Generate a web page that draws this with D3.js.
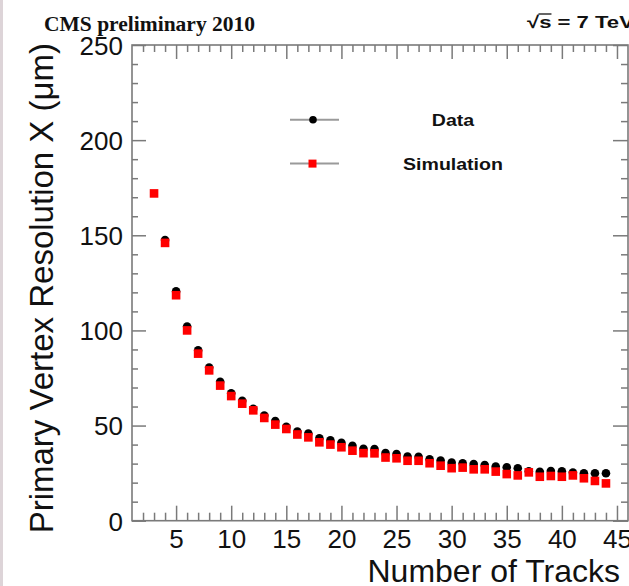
<!DOCTYPE html>
<html>
	<head>
		<meta charset = "utf-8">
		<script src = "https://d3js.org/d3.v7.min.js"></script>
		<style>
			body { margin: 0; background: #fff; }
		</style>
	</head>
	<body>
		<script>
			// Simulation points (number of tracks, resolution in um)
			var simTracks = [3, 4, 5, 6, 7, 8, 9, 10, 11, 12, 13, 14, 15, 16, 17, 18, 19, 20, 21, 22, 23,
			                 24, 25, 26, 27, 28, 29, 30, 31, 32, 33, 34, 35, 36, 37, 38, 39, 40, 41, 42, 43, 44];
			var simRes = [172, 146, 118.5, 100, 87.8, 79, 71, 65.5, 61.5, 58, 54, 50.5, 48.2, 45.3, 43.8, 41.2,
			              40, 38.6, 36.8, 35.5, 35.4, 33.2, 32.8, 31.5, 31.5, 30.2, 28.9, 27.6, 27.9, 27, 27,
			              25.8, 24.5, 23.8, 25.4, 23.1, 23.5, 23.1, 23.8, 22.3, 20.9, 19.6];

			// Data points
			var dataTracks = [4, 5, 6, 7, 8, 9, 10, 11, 12, 13, 14, 15, 16, 17, 18, 19, 20, 21, 22, 23,
			                  24, 25, 26, 27, 28, 29, 30, 31, 32, 33, 34, 35, 36, 37, 38, 39, 40, 41, 42, 43, 44];
			var dataRes = [147.5, 120.5, 102, 89.5, 80.5, 73, 67, 63, 58.8, 55.3, 52.4, 49.3, 46.8, 45.8, 43.3,
			               42.2, 41, 39.4, 37.8, 37.6, 35.5, 35, 33.7, 33.6, 32.3, 31.6, 30.5, 30.2, 29.8, 29.3,
			               28.5, 28.1, 27.6, 26, 25.7, 26.1, 26, 25.3, 24.9, 24.9, 24.9];

			var xMajor = [5, 10, 15, 20, 25, 30, 35, 40, 45];
			var xMinor = [2, 3, 4, 6, 7, 8, 9, 11, 12, 13, 14, 16, 17, 18, 19, 21, 22, 23, 24, 26, 27, 28, 29,
			              31, 32, 33, 34, 36, 37, 38, 39, 41, 42, 43, 44];
			var yMajor = [0, 50, 100, 150, 200, 250];
			var yMinor = [10, 20, 30, 40, 60, 70, 80, 90, 110, 120, 130, 140, 160, 170, 180, 190, 210, 220, 230, 240];

			var legendNames = ["Data", "Simulation"];

			var width = 629, height = 586;
			var plotL = 132, plotR = 628, plotT = 45, plotB = 520.7;
			var axisColor = "#7a7a7a";

			var x = d3.scaleLinear().domain([1, 46]).range([plotL, plotR]);
			var y = d3.scaleLinear().domain([0, 250]).range([plotB, plotT]);

			var svg = d3.select("body").append("svg")
				.attr("width", width)
				.attr("height", height)
				.style("font-family", "'Liberation Sans', Arial, sans-serif");

			// thin grey border on the left edge of the picture
			svg.append("rect").attr("x", 0).attr("y", 0).attr("width", 3).attr("height", height).attr("fill", "#ddd4d8");

			// helper to draw one axis with ticks pointing into the frame
			function drawAxis(axis, tr, values, size, labels){
				var g = svg.append("g").attr("transform", tr)
					.call(axis.tickValues(values).tickSize(-size).tickSizeOuter(0)
						.tickPadding(labels ? 9 : 0)
						.tickFormat(labels ? d3.format("d") : ""));
				g.select(".domain").remove();
				g.selectAll(".tick line").attr("stroke", axisColor).attr("stroke-width", 1.5);
				g.selectAll(".tick text").attr("fill", "#111").style("font-size", "26px");
				return g;
			}

			drawAxis(d3.axisBottom(x), "translate(0," + plotB + ")", xMinor, 8, false);
			drawAxis(d3.axisBottom(x), "translate(0," + plotB + ")", xMajor, 15, true);
			drawAxis(d3.axisTop(x), "translate(0," + plotT + ")", xMinor, 7, false);
			drawAxis(d3.axisTop(x), "translate(0," + plotT + ")", xMajor, 14, false);
			drawAxis(d3.axisLeft(y), "translate(" + plotL + ",0)", yMinor, 6, false);
			var yLab = drawAxis(d3.axisLeft(y), "translate(" + plotL + ",0)", yMajor, 14, true);
			yLab.selectAll(".tick text").attr("dy", "0.36em");
			drawAxis(d3.axisRight(y), "translate(" + plotR + ",0)", yMinor, 7, false);
			drawAxis(d3.axisRight(y), "translate(" + plotR + ",0)", yMajor, 15, false);

			// frame
			svg.append("rect")
				.attr("x", plotL).attr("y", plotT)
				.attr("width", plotR - plotL).attr("height", plotB - plotT)
				.attr("fill", "none").attr("stroke", axisColor).attr("stroke-width", 1.6);

			// data (black circles) under the simulation (red squares)
			svg.append("g").selectAll("circle")
				.data(dataTracks)
				.enter().append("circle")
				.attr("cx", function(d){ return x(d); })
				.attr("cy", function(d, i){ return y(dataRes[i]); })
				.attr("r", 4.3)
				.attr("fill", "#000");

			svg.append("g").selectAll("rect")
				.data(simTracks)
				.enter().append("rect")
				.attr("x", function(d){ return x(d) - 4.3; })
				.attr("y", function(d, i){ return y(simRes[i]) - 4.3; })
				.attr("width", 8.6).attr("height", 8.6)
				.attr("fill", "#ff0000");

			// legend
			var legY = [119.7, 163.6];
			legendNames.forEach(function(name, i){
				svg.append("line")
					.attr("x1", 290).attr("x2", 339)
					.attr("y1", legY[i]).attr("y2", legY[i])
					.attr("stroke", "#9a9a9a").attr("stroke-width", 2);
				if(i == 0){
					svg.append("circle").attr("cx", 313).attr("cy", legY[i]).attr("r", 3.8).attr("fill", "#000");
				} else {
					svg.append("rect").attr("x", 308.5).attr("y", legY[i] - 4).attr("width", 8).attr("height", 8).attr("fill", "#ff0000");
				}
				svg.append("text")
					.attr("transform", "translate(453," + (legY[i] + 6) + ") scale(1.15,1)")
					.attr("text-anchor", "middle")
					.style("font-size", "17px").style("font-weight", "bold")
					.attr("fill", "#111")
					.text(name);
			});

			// axis titles
			svg.append("text")
				.attr("x", 620).attr("y", 582)
				.attr("text-anchor", "end")
				.style("font-size", "32px")
				.attr("fill", "#111")
				.text("Number of Tracks");

			svg.append("text")
				.attr("transform", "translate(53,43) rotate(-90)")
				.attr("text-anchor", "end")
				.style("font-size", "33px")
				.attr("fill", "#111")
				.text("Primary Vertex Resolution X (\u03bcm)");

			// header
			svg.append("text")
				.attr("x", 44).attr("y", 31)
				.style("font-family", "'Liberation Serif', 'Times New Roman', serif")
				.style("font-size", "21.5px").style("font-weight", "bold")
				.attr("fill", "#111")
				.text("CMS preliminary 2010");

			var hdrG = svg.append("g").attr("transform", "translate(527,28) scale(1.3,1)");
			var hdr = hdrG.append("text")
				.style("font-size", "17px").style("font-weight", "bold")
				.attr("fill", "#111");
			hdr.append("tspan").text("\u221a");
			var sSpan = hdr.append("tspan").text("s");
			hdr.append("tspan").text(" = 7 TeV");

			// bar over the s of the square root
			var sBox = sSpan.node().getBBox();
			hdrG.append("line")
				.attr("x1", sBox.x - 0.5).attr("x2", sBox.x + sBox.width)
				.attr("y1", -14).attr("y2", -14)
				.attr("stroke", "#111").attr("stroke-width", 1.3);
		</script>
	</body>
</html>
